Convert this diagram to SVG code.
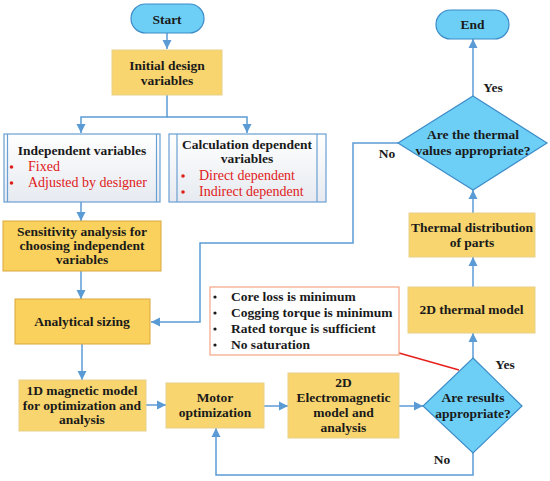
<svg xmlns="http://www.w3.org/2000/svg" width="550" height="481" viewBox="0 0 550 481">
<defs>
<linearGradient id="gw" x1="0" y1="0" x2="0" y2="1"><stop offset="0" stop-color="#ffffff"/><stop offset="1" stop-color="#e6eaf0"/></linearGradient>
<marker id="ah" markerWidth="10" markerHeight="10" refX="9" refY="5" orient="auto" markerUnits="userSpaceOnUse"><path d="M0,0.5 L9,5 L0,9.5 z" fill="#5b9bd5"/></marker>
<style>
.t{font-family:"Liberation Serif","DejaVu Serif",serif;font-weight:bold;font-size:13.5px;fill:#1a1a1a;text-anchor:middle}
.r{font-family:"Liberation Serif","DejaVu Serif",serif;font-size:14px;fill:#e0201b}
.b{font-family:"Liberation Serif","DejaVu Serif",serif;font-weight:bold;font-size:13.5px;fill:#1a1a1a}
.y{fill:#f8d56e;stroke:#e7cf8a;stroke-width:1}
.yd{fill:#f9d15c;stroke:#d9a73e;stroke-width:1}
.bl{fill:#6dcff6;stroke:#3d8cc8;stroke-width:1.2}
.w{fill:url(#gw);stroke:#6a9fd4;stroke-width:1.2}
.c{fill:none;stroke:#5b9bd5;stroke-width:1.5}
</style>
</defs>
<g id="connectors">
<path class="c" d="M167,33 V49" marker-end="url(#ah)"/>
<path class="c" d="M167,95 V117 H81 V133" marker-end="url(#ah)"/>
<path class="c" d="M167,117 H247 V133" marker-end="url(#ah)"/>
<path class="c" d="M81,202 V221" marker-end="url(#ah)"/>
<path class="c" d="M81,271 V299" marker-end="url(#ah)"/>
<path class="c" d="M399,143 H353 V243 H200 V322 H151" marker-end="url(#ah)"/>
<path class="c" d="M82,344 V380" marker-end="url(#ah)"/>
<path class="c" d="M146,405 H166" marker-end="url(#ah)"/>
<path class="c" d="M264,406 H288" marker-end="url(#ah)"/>
<path class="c" d="M399,406 H423" marker-end="url(#ah)"/>
<path class="c" d="M473,453 V475 H216 V428" marker-end="url(#ah)"/>
<path class="c" d="M473,358 V333" marker-end="url(#ah)"/>
<path class="c" d="M473,287 V257" marker-end="url(#ah)"/>
<path class="c" d="M473,213 V190" marker-end="url(#ah)"/>
<path class="c" d="M473,96 V39" marker-end="url(#ah)"/>
<line x1="399" y1="353" x2="459" y2="370" stroke="#e8201b" stroke-width="1.5"/>
<text class="t" x="387" y="158">No</text>
<text class="t" x="493" y="92">Yes</text>
<text class="t" x="505" y="369">Yes</text>
<text class="t" x="442" y="464">No</text>
</g>
<g id="start">
<rect class="bl" x="131" y="4" width="73" height="29" rx="14.5"/>
<text class="t" x="167" y="23.5">Start</text>
</g>
<g id="initial">
<rect class="y" x="112" y="50" width="110" height="45"/>
<text class="t" x="167" y="70">Initial design</text>
<text class="t" x="167" y="85">variables</text>
</g>
<g id="independent">
<rect class="w" x="4" y="134" width="156" height="68"/>
<line x1="7.5" y1="134" x2="7.5" y2="202" stroke="#6a9fd4" stroke-width="1.2"/>
<line x1="156.5" y1="134" x2="156.5" y2="202" stroke="#6a9fd4" stroke-width="1.2"/>
<text class="t" x="82" y="155">Independent variables</text>
<circle cx="11.5" cy="167" r="1.8" fill="#e0201b"/>
<text class="r" x="28" y="171">Fixed</text>
<circle cx="11.5" cy="183" r="1.8" fill="#e0201b"/>
<text class="r" x="28" y="187">Adjusted by designer</text>
</g>
<g id="calculation">
<rect class="w" x="169" y="134" width="157" height="68"/>
<line x1="177" y1="134" x2="177" y2="202" stroke="#6a9fd4" stroke-width="1.2"/>
<line x1="317" y1="134" x2="317" y2="202" stroke="#6a9fd4" stroke-width="1.2"/>
<text class="t" x="247" y="149">Calculation dependent</text>
<text class="t" x="247" y="163">variables</text>
<circle cx="183" cy="176" r="1.8" fill="#e0201b"/>
<text class="r" x="199" y="180">Direct dependent</text>
<circle cx="183" cy="192" r="1.8" fill="#e0201b"/>
<text class="r" x="199" y="196">Indirect dependent</text>
</g>
<g id="sensitivity">
<rect class="yd" x="3" y="221" width="158" height="50"/>
<text class="t" x="82" y="236">Sensitivity analysis for</text>
<text class="t" x="82" y="250">choosing independent</text>
<text class="t" x="82" y="264">variables</text>
</g>
<g id="analytical">
<rect class="yd" x="15" y="299" width="135" height="45"/>
<text class="t" x="82" y="326">Analytical sizing</text>
</g>
<g id="oned">
<rect class="y" x="19" y="380" width="127" height="51"/>
<text class="t" x="82" y="395">1D magnetic model</text>
<text class="t" x="82" y="410">for optimization and</text>
<text class="t" x="82" y="424">analysis</text>
</g>
<g id="motor">
<rect class="y" x="166" y="383" width="98" height="45"/>
<text class="t" x="215" y="402">Motor</text>
<text class="t" x="215" y="417">optimization</text>
</g>
<g id="twod">
<rect class="y" x="288" y="373" width="111" height="65"/>
<text class="t" x="343.5" y="387">2D</text>
<text class="t" x="343.5" y="402">Electromagnetic</text>
<text class="t" x="343.5" y="417">model and</text>
<text class="t" x="343.5" y="432">analysis</text>
</g>
<g id="results">
<polygon class="bl" points="473,358 522,406 473,453 423,406"/>
<text class="t" x="473" y="402">Are results</text>
<text class="t" x="473" y="418">appropriate?</text>
</g>
<g id="notes">
<rect x="210" y="287" width="189" height="68" fill="#ffffff" stroke="#f4a582" stroke-width="1.2"/>
<circle cx="215" cy="297" r="1.6" fill="#1a1a1a"/>
<text class="b" x="231" y="301">Core loss is minimum</text>
<circle cx="215" cy="313" r="1.6" fill="#1a1a1a"/>
<text class="b" x="231" y="317">Cogging torque is minimum</text>
<circle cx="215" cy="329" r="1.6" fill="#1a1a1a"/>
<text class="b" x="231" y="333">Rated torque is sufficient</text>
<circle cx="215" cy="345" r="1.6" fill="#1a1a1a"/>
<text class="b" x="231" y="349">No saturation</text>
</g>
<g id="thermalmodel">
<rect class="y" x="408" y="287" width="127" height="46"/>
<text class="t" x="471.5" y="314">2D thermal model</text>
</g>
<g id="thermaldist">
<rect class="y" x="409" y="213" width="126" height="44"/>
<text class="t" x="472" y="232">Thermal distribution</text>
<text class="t" x="472" y="247">of parts</text>
</g>
<g id="thermalcheck">
<polygon class="bl" points="473,96 547,143 473,190 398,143"/>
<text class="t" x="473" y="139">Are the thermal</text>
<text class="t" x="473" y="155">values appropriate?</text>
</g>
<g id="end">
<rect class="bl" x="436" y="10" width="73" height="29" rx="14.5"/>
<text class="t" x="472.5" y="29">End</text>
</g>
</svg>
